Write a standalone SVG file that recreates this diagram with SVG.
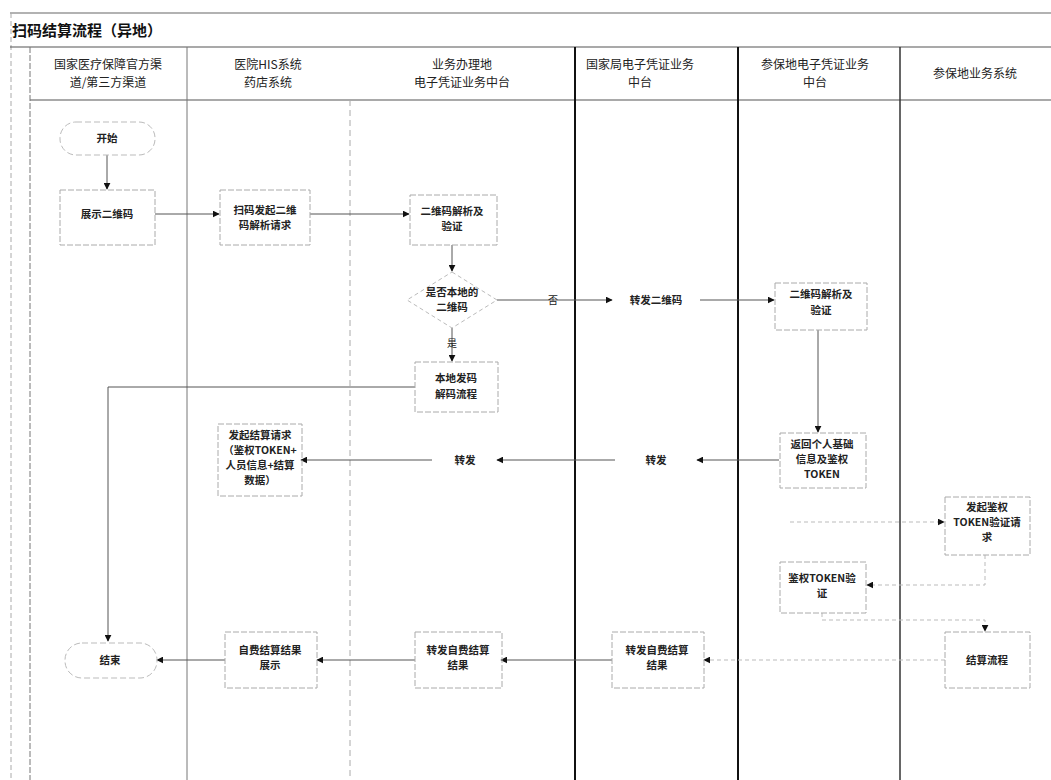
<svg xmlns="http://www.w3.org/2000/svg" width="1051" height="780" viewBox="0 0 1051 780">
<defs>
<marker id="ah" viewBox="0 0 10 10" refX="9" refY="5" markerWidth="7" markerHeight="7" orient="auto" markerUnits="userSpaceOnUse"><path d="M0,0 L10,5 L0,10 z" fill="#111"/></marker>
<style>
text{font-family:"Noto Sans CJK SC","Liberation Sans",sans-serif;fill:#222;text-anchor:middle}
.h{font-size:12px}
.t{font-size:10.5px;font-weight:bold}
.title{font-size:15px;font-weight:bold;text-anchor:start;fill:#111}
.box{fill:none;stroke:#aaa;stroke-width:1;stroke-dasharray:6 2}
.term{fill:none;stroke:#bbb;stroke-width:1;stroke-dasharray:6 3}
.c{fill:none;stroke:#555;stroke-width:1;marker-end:url(#ah)}
.cf{fill:none;stroke:#bbb;stroke-width:1;stroke-dasharray:4 3;marker-end:url(#ah)}
.lbl{font-size:10px}
</style>
</defs>
<rect width="1051" height="780" fill="#fff"/>
<g id="frame">
<line x1="10" y1="13" x2="1051" y2="13" stroke="#999" stroke-width="1.5"/>
<line x1="11" y1="13" x2="11" y2="780" stroke="#aaa" stroke-dasharray="5 3"/>
<line x1="10" y1="47" x2="1051" y2="47" stroke="#555" stroke-width="1.2"/>
<line x1="30" y1="100" x2="1051" y2="100" stroke="#555" stroke-width="1.2"/>
<line x1="30" y1="47" x2="30" y2="780" stroke="#777" stroke-dasharray="6 2"/>
<line x1="187" y1="47" x2="187" y2="780" stroke="#777" stroke-width="1"/>
<line x1="350" y1="100" x2="350" y2="780" stroke="#aaa" stroke-dasharray="6 4"/>
<line x1="575" y1="47" x2="575" y2="780" stroke="#111" stroke-width="2"/>
<line x1="738" y1="47" x2="738" y2="780" stroke="#111" stroke-width="2"/>
<line x1="900" y1="47" x2="900" y2="780" stroke="#333" stroke-width="1.5"/>
<text class="title" x="12" y="36">扫码结算流程（异地）</text>
<text class="h" x="108" y="69">国家医疗保障官方渠</text>
<text class="h" x="108" y="87">道/第三方渠道</text>
<text class="h" x="268" y="69">医院HIS系统</text>
<text class="h" x="268" y="87">药店系统</text>
<text class="h" x="462" y="69">业务办理地</text>
<text class="h" x="462" y="87">电子凭证业务中台</text>
<text class="h" x="640" y="69">国家局电子凭证业务</text>
<text class="h" x="640" y="87">中台</text>
<text class="h" x="815" y="69">参保地电子凭证业务</text>
<text class="h" x="815" y="87">中台</text>
<text class="h" x="975" y="78">参保地业务系统</text>
</g>
<g id="connectors">
<path class="c" d="M107,155 V189"/>
<path class="c" d="M155,214 H219"/>
<path class="c" d="M310,214 H409"/>
<path class="c" d="M452,245 V271"/>
<path class="c" d="M497,300 H612"/>
<text class="lbl" x="553" y="304">否</text>
<path class="c" d="M700,300 H774"/>
<path class="c" d="M452,328 V361"/>
<text class="lbl" x="452" y="347">是</text>
<path class="c" d="M415,387 H108 V641"/>
<path class="c" d="M818,330 V432"/>
<path class="c" d="M779,460 H697"/>
<path class="c" d="M615,460 H497"/>
<path class="c" d="M432,460 H301"/>
<path class="cf" d="M790,522 H944"/>
<path class="cf" d="M985,555 V585 H867"/>
<path class="cf" d="M822,613 V620 H985 V631"/>
<path class="cf" d="M945,660 H704"/>
<path class="c" d="M612,660 H501"/>
<path class="c" d="M415,660 H317"/>
<path class="c" d="M225,660 H157"/>
</g>
<g id="n-start"><rect class="term" x="60" y="122" width="95" height="33" rx="16"/><text class="t" x="107" y="142">开始</text></g>
<g id="n-show"><rect class="box" x="60" y="190" width="95" height="55"/><text class="t" x="107" y="218">展示二维码</text></g>
<g id="n-scan"><rect class="box" x="220" y="190" width="90" height="55"/><text class="t" x="265" y="214">扫码发起二维</text><text class="t" x="265" y="229">码解析请求</text></g>
<g id="n-parse1"><rect class="box" x="410" y="195" width="87" height="50"/><text class="t" x="452" y="215">二维码解析及</text><text class="t" x="452" y="230">验证</text></g>
<g id="n-decide"><path d="M452,272 L497,300 L452,328 L407,300 z" fill="none" stroke="#bbb" stroke-dasharray="4 3"/><text class="t" x="452" y="296">是否本地的</text><text class="t" x="452" y="311">二维码</text></g>
<g id="n-fwdqr"><text class="t" x="656" y="304">转发二维码</text></g>
<g id="n-parse2"><rect class="box" x="775" y="283" width="92" height="47"/><text class="t" x="821" y="298">二维码解析及</text><text class="t" x="821" y="314">验证</text></g>
<g id="n-local"><rect class="box" x="415" y="362" width="83" height="50"/><text class="t" x="456" y="382">本地发码</text><text class="t" x="456" y="398">解码流程</text></g>
<g id="n-return"><rect class="box" x="780" y="433" width="86" height="55"/><text class="t" x="822" y="448">返回个人基础</text><text class="t" x="822" y="463">信息及鉴权</text><text class="t" x="822" y="478">TOKEN</text></g>
<g id="n-fwd4"><text class="t" x="656" y="464">转发</text></g>
<g id="n-fwd3"><text class="t" x="465" y="464">转发</text></g>
<g id="n-settle"><rect class="box" x="218" y="424" width="84" height="72"/><text class="t" x="260" y="439">发起结算请求</text><text class="t" x="260" y="454">（鉴权TOKEN+</text><text class="t" x="260" y="469">人员信息+结算</text><text class="t" x="260" y="484">数据）</text></g>
<g id="n-authreq"><rect class="box" x="945" y="497" width="85" height="58"/><text class="t" x="987" y="511">发起鉴权</text><text class="t" x="987" y="526">TOKEN验证请</text><text class="t" x="987" y="541">求</text></g>
<g id="n-authver"><rect class="box" x="780" y="562" width="86" height="51"/><text class="t" x="822" y="582">鉴权TOKEN验</text><text class="t" x="822" y="597">证</text></g>
<g id="n-flow"><rect class="box" x="945" y="632" width="85" height="56"/><text class="t" x="987" y="664">结算流程</text></g>
<g id="n-res4"><rect class="box" x="612" y="632" width="92" height="56"/><text class="t" x="657" y="654">转发自费结算</text><text class="t" x="657" y="669">结果</text></g>
<g id="n-res3"><rect class="box" x="415" y="632" width="87" height="56"/><text class="t" x="458" y="654">转发自费结算</text><text class="t" x="458" y="669">结果</text></g>
<g id="n-res2"><rect class="box" x="225" y="632" width="92" height="56"/><text class="t" x="270" y="654">自费结算结果</text><text class="t" x="270" y="669">展示</text></g>
<g id="n-end"><rect class="term" x="65" y="643" width="92" height="35" rx="17"/><text class="t" x="110" y="664">结束</text></g>
</svg>
